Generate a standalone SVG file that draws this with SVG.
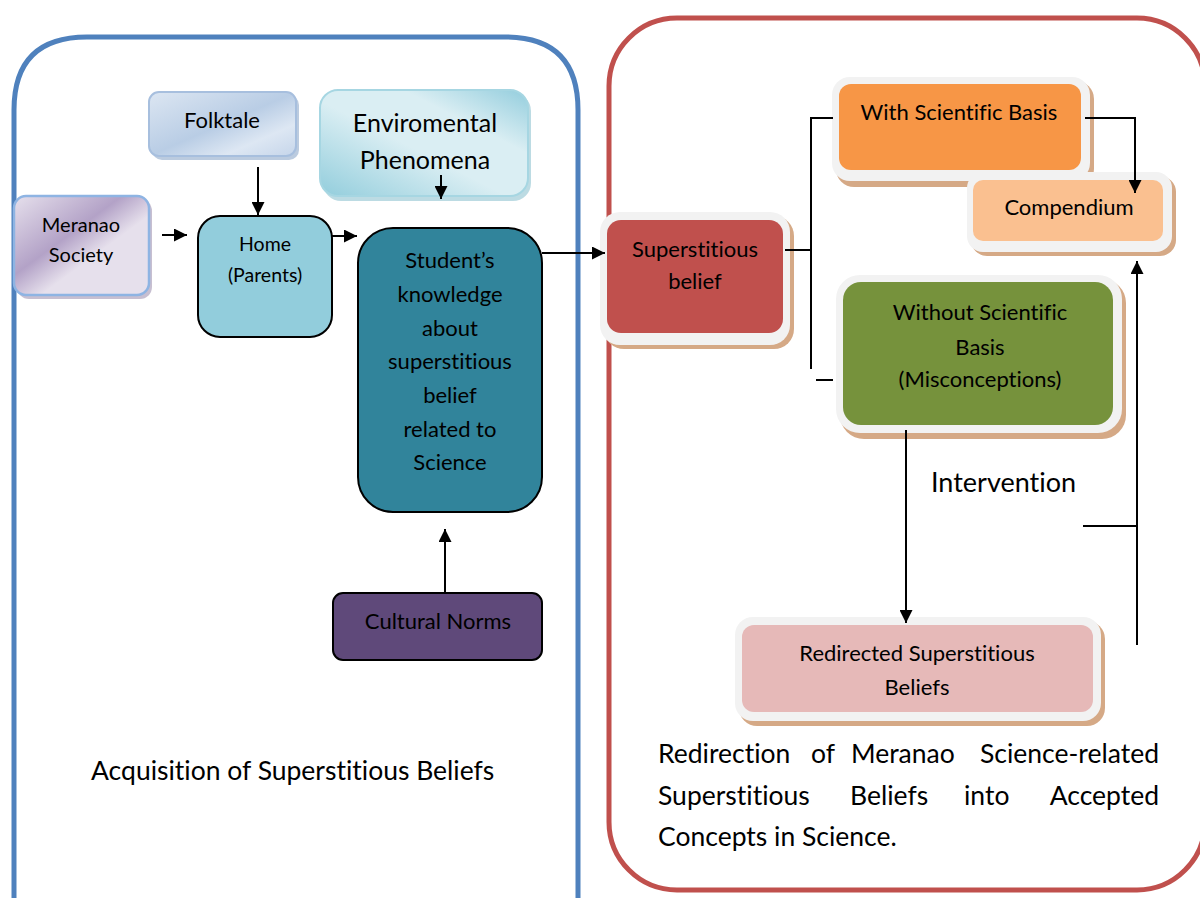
<svg xmlns="http://www.w3.org/2000/svg" width="1200" height="898" viewBox="0 0 1200 898">
<defs>
<linearGradient id="gFolk" x1="0" y1="0" x2="1" y2="1">
<stop offset="0" stop-color="#dce6f2"/><stop offset="0.5" stop-color="#b9cde5"/><stop offset="0.75" stop-color="#dde7f3"/><stop offset="1" stop-color="#c5d5ea"/>
</linearGradient>
<linearGradient id="gEnv" x1="0" y1="1" x2="1" y2="0">
<stop offset="0" stop-color="#92cddc"/><stop offset="0.45" stop-color="#daeef3"/><stop offset="0.7" stop-color="#daeef3"/><stop offset="1" stop-color="#93cddd"/>
</linearGradient>
<linearGradient id="gMer" x1="0" y1="0" x2="1" y2="1">
<stop offset="0" stop-color="#e6e0ec"/><stop offset="0.4" stop-color="#b3a2c7"/><stop offset="0.6" stop-color="#e6e0ec"/><stop offset="1" stop-color="#e6e0ec"/>
</linearGradient>
<marker id="ah" viewBox="0 0 10 10" refX="10" refY="5" markerWidth="11" markerHeight="11" markerUnits="userSpaceOnUse" orient="auto">
<path d="M0,0 L10,5 L0,10 z" fill="#000"/>
</marker>
<marker id="ahL" viewBox="0 0 12 12" refX="12" refY="6" markerWidth="13" markerHeight="13" markerUnits="userSpaceOnUse" orient="auto">
<path d="M0,0 L12,6 L0,12 z" fill="#000"/>
</marker>
</defs>
<style>
text{font-family:"Lato","Liberation Sans",sans-serif;fill:#000;font-variant-ligatures:none;}
.c{text-anchor:middle;}
.ln{stroke:#000;stroke-width:2;fill:none;}
.frame{fill:#f2f2f2;}
.shadow{fill:#d5a986;}
</style>
<rect width="1200" height="898" fill="#fff"/>

<!-- containers -->
<g id="container-left">
<path d="M14,905 L14,110 Q14,37 87,37 L505,37 Q578,37 578,110 L578,905" fill="none" stroke="#4f81bd" stroke-width="5"/>
<text x="91" y="780" font-size="26.5">Acquisition of Superstitious Beliefs</text>
</g>
<g id="container-right">
<rect x="609" y="18" width="596" height="872" rx="68" ry="68" fill="none" stroke="#c0504d" stroke-width="5"/>
<text y="763" font-size="26.5"><tspan x="658">Redirection</tspan><tspan x="811">of</tspan><tspan x="851">Meranao</tspan><tspan x="1159" text-anchor="end">Science-related</tspan></text>
<text y="805" font-size="26.5"><tspan x="658">Superstitious</tspan><tspan x="850">Beliefs</tspan><tspan x="964">into</tspan><tspan x="1159" text-anchor="end">Accepted</tspan></text>
<text x="658" y="846" font-size="26.5">Concepts in Science.</text>
</g>

<!-- left nodes -->
<g id="folktale">
<rect x="152" y="95" width="147" height="65" rx="10" fill="#8ea9c9" opacity="0.6"/>
<rect x="149" y="92" width="147" height="64" rx="10" fill="url(#gFolk)" stroke="#a7bfde" stroke-width="2"/>
<text x="222" y="128" class="c" font-size="22">Folktale</text>
</g>
<g id="environmental">
<rect x="323" y="93" width="208" height="108" rx="18" fill="#8fc3d1" opacity="0.6"/>
<rect x="320" y="90" width="208" height="106" rx="18" fill="url(#gEnv)" stroke="#a6d6e2" stroke-width="2"/>
<text x="425" y="132" class="c" font-size="25">Enviromental</text>
<text x="425" y="169" class="c" font-size="25">Phenomena</text>
</g>
<g id="meranao">
<rect x="17" y="199" width="135" height="100" rx="12" fill="#a195b3" opacity="0.6"/>
<rect x="14" y="196" width="135" height="99" rx="12" fill="url(#gMer)" stroke="#8eb4e3" stroke-width="2.5"/>
<text x="81" y="232" class="c" font-size="20">Meranao</text>
<text x="81" y="262" class="c" font-size="20">Society</text>
</g>
<g id="home">
<rect x="198" y="216" width="134" height="121" rx="22" fill="#92cddc" stroke="#000" stroke-width="2"/>
<text x="265" y="251" class="c" font-size="19.5">Home</text>
<text x="265" y="282" class="c" font-size="19.5">(Parents)</text>
</g>
<g id="student">
<rect x="358" y="228" width="184" height="284" rx="35" fill="#31849b" stroke="#000" stroke-width="2"/>
<g font-size="22">
<text x="450" y="268" class="c">Student’s</text>
<text x="450" y="302" class="c">knowledge</text>
<text x="450" y="336" class="c">about</text>
<text x="450" y="369" class="c">superstitious</text>
<text x="450" y="403" class="c">belief</text>
<text x="450" y="437" class="c">related to</text>
<text x="450" y="470" class="c">Science</text>
</g>
</g>
<g id="cultural">
<rect x="333" y="593" width="209" height="67" rx="10" fill="#5f497a" stroke="#000" stroke-width="2"/>
<text x="438" y="629" class="c" font-size="22">Cultural Norms</text>
</g>

<!-- right nodes -->
<g id="superstitious">
<rect x="604" y="216" width="190" height="133" rx="20" class="shadow"/>
<rect x="600" y="212" width="190" height="133" rx="20" class="frame"/>
<rect x="607" y="220" width="176" height="113" rx="14" fill="#c0504d"/>
<text x="695" y="257" class="c" font-size="22">Superstitious</text>
<text x="695" y="289" class="c" font-size="22">belief</text>
</g>
<g id="with-basis">
<rect x="836" y="81" width="258" height="106" rx="18" class="shadow"/>
<rect x="832" y="77" width="258" height="104" rx="18" class="frame"/>
<rect x="839" y="84" width="242" height="86" rx="12" fill="#f79646"/>
<text x="959" y="120" class="c" font-size="22">With Scientific Basis</text>
</g>
<g id="compendium">
<rect x="971" y="176" width="205" height="80" rx="16" class="shadow"/>
<rect x="967" y="172" width="205" height="80" rx="16" class="frame"/>
<rect x="973" y="180" width="190" height="61" rx="10" fill="#fac090"/>
<text x="1069" y="215" class="c" font-size="22">Compendium</text>
</g>
<g id="without-basis">
<rect x="840" y="279" width="286" height="160" rx="24" class="shadow"/>
<rect x="836" y="275" width="286" height="158" rx="24" class="frame"/>
<rect x="843" y="282" width="270" height="143" rx="18" fill="#76923c"/>
<text x="980" y="320" class="c" font-size="22">Without Scientific</text>
<text x="980" y="355" class="c" font-size="22">Basis</text>
<text x="980" y="387" class="c" font-size="22">(Misconceptions)</text>
</g>
<g id="redirected">
<rect x="739" y="621" width="366" height="105" rx="18" class="shadow"/>
<rect x="735" y="617" width="366" height="104" rx="18" class="frame"/>
<rect x="742" y="625" width="351" height="87" rx="12" fill="#e6b9b8"/>
<text x="917" y="661" class="c" font-size="22">Redirected Superstitious</text>
<text x="917" y="695" class="c" font-size="22">Beliefs</text>
</g>
<g id="intervention-label">
<text x="931" y="492" font-size="27">Intervention</text>
</g>

<!-- connectors -->
<g id="connectors">
<line x1="258" y1="167" x2="258" y2="215" class="ln" marker-end="url(#ahL)"/>
<line x1="441" y1="175" x2="441" y2="199" class="ln" marker-end="url(#ahL)"/>
<line x1="162" y1="235" x2="187" y2="235" class="ln" marker-end="url(#ahL)"/>
<line x1="332" y1="236" x2="357" y2="236" class="ln" marker-end="url(#ahL)"/>
<line x1="542" y1="253" x2="605" y2="253" class="ln" marker-end="url(#ahL)"/>
<line x1="445" y1="592" x2="445" y2="529" class="ln" marker-end="url(#ahL)"/>
<polyline points="785,250 811,250" class="ln"/>
<polyline points="833,118 811,118 811,369" class="ln"/>
<line x1="816" y1="380" x2="833" y2="380" class="ln"/>
<polyline points="1085,118 1135,118 1135,193" class="ln" marker-end="url(#ahL)"/>
<line x1="906" y1="430" x2="906" y2="623" class="ln" marker-end="url(#ahL)"/>
<line x1="1083" y1="526" x2="1137" y2="526" class="ln"/>
<line x1="1137" y1="645" x2="1137" y2="261" class="ln" marker-end="url(#ahL)"/>
</g>
</svg>
